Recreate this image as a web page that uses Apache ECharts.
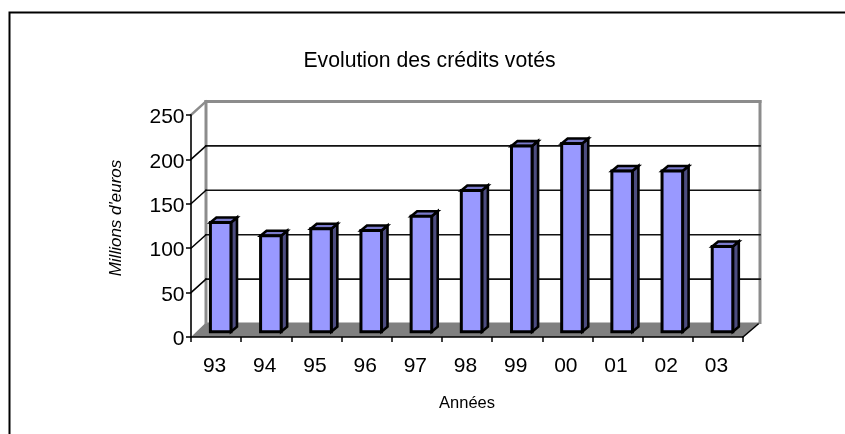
<!DOCTYPE html>
<html lang="fr">
<head>
    <meta charset="utf-8">
    <title>Evolution des crédits votés</title>
    <style>
        html, body { margin: 0; padding: 0; background: #fff; }
        #main { width: 845px; height: 434px; }
    </style>
</head>
<body>
<div id="main"></div>
</body>
<script src="https://cdn.jsdelivr.net/npm/echarts@6/dist/echarts.min.js"></script>
<script>
var annees = ['93', '94', '95', '96', '97', '98', '99', '00', '01', '02', '03'];
var credits = [123, 108, 116, 114, 130, 159, 209, 212, 181, 181, 96];
var graduations = [0, 50, 100, 150, 200, 250];

// profondeur de la fausse 3D (px)
var fondX = 15, fondY = -13.5;
var barreX = 4.6, barreY = -5.3, barreProf = 6, barreY3d = -5;

var myChart = echarts.init(document.getElementById('main'), null, { renderer: 'canvas' });

function ligne(x1, y1, x2, y2, couleur, largeur) {
    return {
        type: 'line',
        shape: { x1: x1, y1: y1, x2: x2, y2: y2 },
        style: { stroke: couleur, lineWidth: largeur, lineCap: 'square' }
    };
}

function poly(points, fill, stroke, largeur) {
    return {
        type: 'polygon',
        shape: { points: points },
        style: { fill: fill, stroke: stroke, lineWidth: largeur, lineJoin: 'miter' }
    };
}

function dessineFond(params, api) {
    var g = params.coordSys;
    var v = api.value(0);
    var y = api.coord([0, v])[1];
    var xg = g.x, xd = g.x + g.width;
    var children = [];
    if (v === 0) {
        var yb = y + fondY - 1;
        children.push(poly([[xg, y], [xd, y], [xd + fondX + 2, yb], [xg + fondX, yb]], '#808080', null, 0));
        children.push(ligne(xd, y, xd + fondX + 2, yb, '#000', 1.5));
        // mur du fond, gris
        var yh = api.coord([0, 250])[1] + fondY;
        children.push(ligne(xg + fondX, yh, xg + fondX, yb, '#8c8c8c', 3));
        children.push(ligne(xd + fondX + 2, yh, xd + fondX + 2, yb, '#8c8c8c', 3));
    } else if (v === 250) {
        children.push(ligne(xg + fondX, y + fondY, xd + fondX + 2, y + fondY, '#8c8c8c', 3));
        children.push(ligne(xg, y, xg + fondX, y + fondY, '#8c8c8c', 2.4));
    } else {
        children.push(ligne(xg + fondX, y + fondY, xd + fondX + 2, y + fondY, '#111', 1.6));
        children.push(ligne(xg, y, xg + fondX, y + fondY, '#000', 1.5));
    }
    return { type: 'group', children: children };
}

function dessineBarre(params, api) {
    var i = api.value(0);
    var haut = api.coord([i, api.value(1)]);
    var bas = api.coord([i, 0]);
    var l = api.size([1, 0])[0] * 0.41;
    var x1 = haut[0] + barreX - l / 2, x2 = x1 + l;
    var y1 = haut[1] + barreY, y2 = bas[1] + barreY;
    var px = barreProf, py = barreY3d;
    return {
        type: 'group',
        children: [
            poly([[x2, y1], [x2 + px, y1 + py], [x2 + px, y2 + py], [x2, y2]], '#4d4d80', '#000', 2.6),
            poly([[x1, y1], [x1 + px, y1 + py], [x2 + px, y1 + py], [x2, y1]], '#7a7acc', '#000', 2.6),
            poly([[x1, y1], [x2, y1], [x2, y2], [x1, y2]], '#9999ff', '#000', 3)
        ]
    };
}

var option = {
    backgroundColor: '#fff',
    animation: false,
    textStyle: { fontFamily: 'Liberation Sans', color: '#000' },
    title: {
        text: 'Evolution des crédits votés',
        left: 424.5,
        top: 46,
        textAlign: 'center',
        textStyle: { fontSize: 21.2, fontWeight: 'normal', color: '#000', fontFamily: 'Liberation Sans' }
    },
    grid: { left: 191, width: 552, top: 115, height: 222 },
    xAxis: {
        type: 'category',
        data: annees,
        z: 3,
        name: 'Années',
        nameLocation: 'middle',
        nameGap: 58,
        nameTextStyle: { fontSize: 16.5, color: '#000', fontFamily: 'Liberation Sans' },
        axisLine: { lineStyle: { color: '#000', width: 1.6 } },
        axisTick: { show: true, alignWithLabel: false, length: 5, lineStyle: { color: '#000', width: 1.5 } },
        axisLabel: { fontSize: 21, color: '#000', margin: 19, interval: 0, fontFamily: 'Liberation Sans', padding: [0, 3, 0, 0] },
        splitLine: { show: false }
    },
    yAxis: {
        type: 'value',
        min: 0,
        max: 250,
        interval: 50,
        z: 3,
        name: "Millions d'euros",
        nameLocation: 'middle',
        nameGap: 66,
        nameRotate: 90,
        nameTextStyle: { fontSize: 17, fontStyle: 'italic', color: '#000', fontFamily: 'Liberation Sans', padding: [0, 0, 0, 16] },
        axisLine: { show: true, lineStyle: { color: '#000', width: 1.6 } },
        axisTick: { show: true, length: 5, lineStyle: { color: '#000', width: 1.5 } },
        axisLabel: { fontSize: 21, color: '#000', margin: 6.5, fontFamily: 'Liberation Sans', verticalAlign: 'top', padding: [-8, 0, 0, 0] },
        splitLine: { show: false }
    },
    graphic: [
        {
            type: 'polyline',
            silent: true,
            shape: { points: [[9.5, 434], [9.5, 12.5], [845, 12.5]] },
            style: { stroke: '#000', lineWidth: 2, fill: null }
        }
    ],
    series: [
        {
            name: 'fond',
            type: 'custom',
            coordinateSystem: 'cartesian2d',
            z: 1,
            silent: true,
            clip: false,
            encode: { y: 0 },
            data: graduations.map(function (v) { return [v]; }),
            renderItem: dessineFond
        },
        {
            name: 'Crédits votés',
            type: 'custom',
            coordinateSystem: 'cartesian2d',
            z: 2,
            silent: true,
            clip: false,
            encode: { x: 0, y: 1 },
            data: credits.map(function (v, i) { return [i, v]; }),
            renderItem: dessineBarre
        }
    ]
};

myChart.setOption(option);
window.addEventListener('resize', function () {
    myChart.resize();
});
</script>
</html>
